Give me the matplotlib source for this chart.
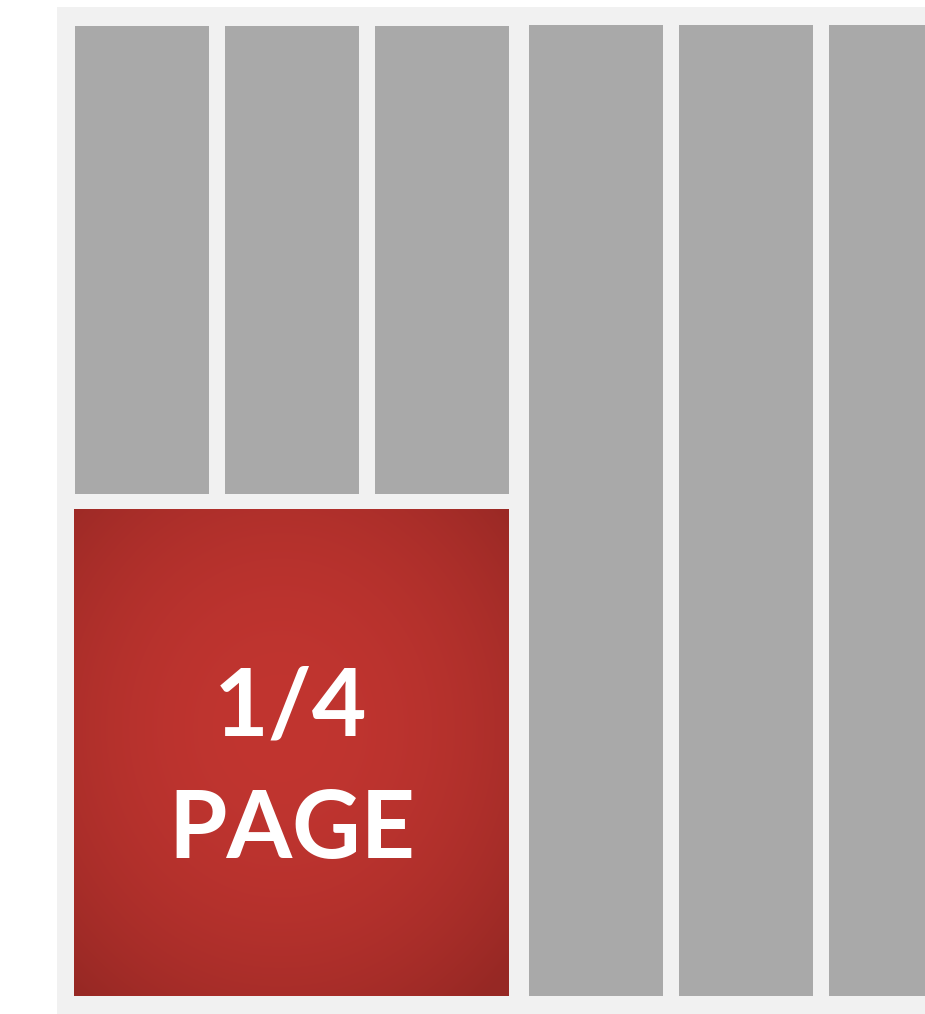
import numpy as np
import matplotlib.pyplot as plt
from matplotlib.patches import Rectangle

W, H = 925, 1014

# page layout (pixel units, y down)
page_box = (57, 7, 925, 1014)
short_cols_x = [75, 225, 375]
short_cols_y = (26, 494)
tall_cols_x = [529, 679, 829]
tall_cols_y = (25, 996)
col_width = 134
ad_box = (74, 509, 509, 996)
ad_label = ["1/4", "PAGE"]

bg_color = '#f1f1f1'
col_color = '#a9a9a9'

fig = plt.figure(figsize=(W / 100, H / 100), dpi=100)
ax = fig.add_axes([0, 0, 1, 1])
ax.set_xlim(0, W)
ax.set_ylim(H, 0)
ax.axis('off')

x0, y0, x1, y1 = page_box
ax.add_patch(Rectangle((x0, y0), x1 - x0, y1 - y0, color=bg_color, lw=0))

for x in short_cols_x:
    ax.add_patch(Rectangle((x, short_cols_y[0]), col_width, short_cols_y[1] - short_cols_y[0],
                           color=col_color, lw=0))
for x in tall_cols_x:
    ax.add_patch(Rectangle((x, tall_cols_y[0]), col_width, tall_cols_y[1] - tall_cols_y[0],
                           color=col_color, lw=0))

# red block with radial gradient (vignette)
ax0, ay0, ax1, ay1 = ad_box
nx, ny = ax1 - ax0, ay1 - ay0
xx, yy = np.meshgrid(np.linspace(-1, 1, nx), np.linspace(-1, 1, ny))
cx, cy = -0.05, -0.1
r = np.sqrt((xx - cx) ** 2 + (yy - cy) ** 2) / 1.45
r = np.clip(r, 0, 1) ** 2
inner = np.array([193, 53, 48]) / 255
outer = np.array([150, 40, 36]) / 255
img = inner[None, None, :] * (1 - r[..., None]) + outer[None, None, :] * r[..., None]
ax.imshow(img, extent=(ax0, ax1, ay1, ay0), aspect='auto', interpolation='bilinear', zorder=2)

fam = ['Lato', 'DejaVu Sans']
ax.text(291, 735, ad_label[0], color='white', fontsize=68, fontweight='bold',
        ha='center', va='baseline', family=fam, zorder=3)
ax.text(292, 858, ad_label[1], color='white', fontsize=68, fontweight='bold',
        ha='center', va='baseline', family=fam, zorder=3)

fig.savefig('out.png', dpi=100, facecolor='white')
